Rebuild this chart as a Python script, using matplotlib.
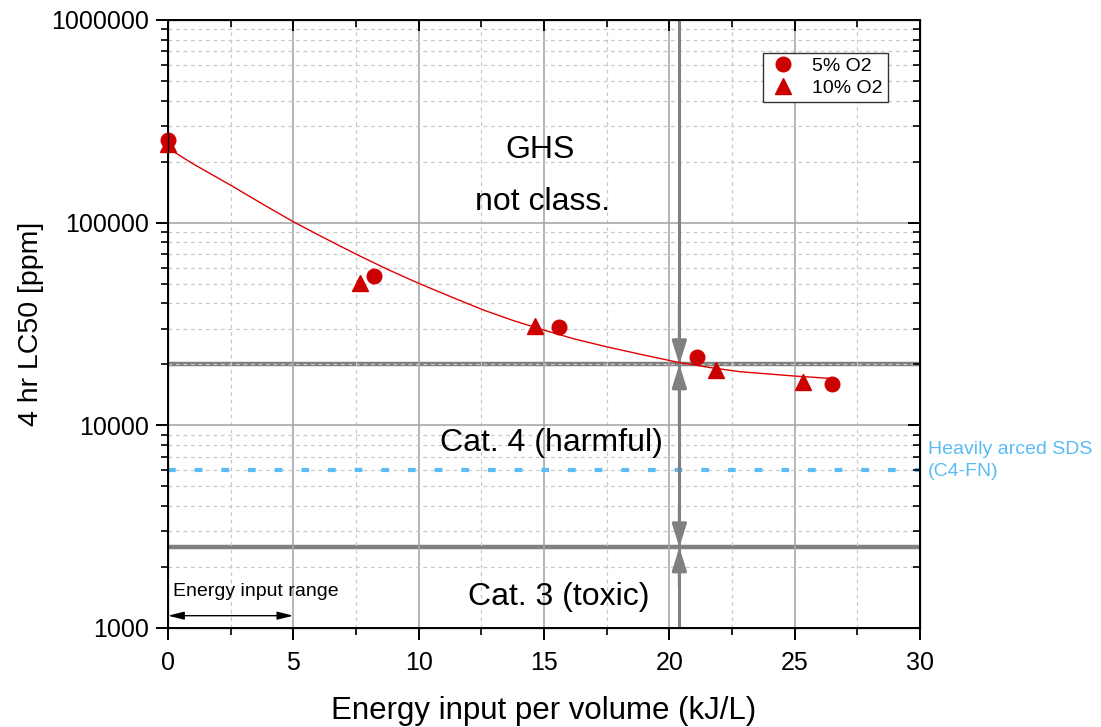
# coding: utf-8
# LC50 vs energy input per volume (log scale)
import matplotlib
matplotlib.use('Agg')
from matplotlib import pyplot as plt
from matplotlib.ticker import MultipleLocator, NullFormatter, FixedLocator, FuncFormatter

plt.rcParams['font.family'] = ['Liberation Sans', 'DejaVu Sans']

# measured points
x_5 = [0.0, 8.2, 15.6, 21.1, 26.5]
y_5 = [255000, 54500, 30500, 21700, 16000]
x_10 = [0.0, 7.65, 14.65, 21.85, 25.35]
y_10 = [245000, 50300, 30900, 18750, 16350]

# fit curve
fit_x = [0.0, 1.0, 2.5, 3.75, 5.0, 6.0, 6.86, 7.66, 8.8, 10.0, 11.3, 12.6, 13.8, 15.0,
         16.2, 17.5, 19.0, 20.4, 21.6, 22.8, 24.0, 25.0, 26.4]
fit_y = [233000, 195000, 153000, 124000, 101000, 87000, 76700, 68400, 58500, 50200,
         43000, 37000, 32800, 29500, 26700, 24400, 22200, 20400, 19300, 18400, 17900,
         17500, 17050]

# GHS thresholds
ghs_cat4 = 20000
ghs_cat3 = 2500
sds_level = 6000
x_cross = 20.4
range_x = [0, 5]
range_y = 1150

y_major = [1e3, 1e4, 1e5, 1e6]
y_minor = [k * 10 ** d for d in (3, 4, 5) for k in range(2, 10)]


def main():
    fig = plt.figure(figsize=(11.01, 7.27), dpi=100)
    ax = fig.add_axes([0.1526, 0.1362, 0.6830, 0.8363])
    ax.set_yscale('log')
    ax.set_xlim(0, 30)
    ax.set_ylim(1000, 1000000)

    ########################################
    # grid
    ########################################
    ax.xaxis.set_major_locator(MultipleLocator(5))
    ax.xaxis.set_minor_locator(MultipleLocator(2.5))
    ax.yaxis.set_major_locator(FixedLocator(y_major))
    ax.yaxis.set_minor_locator(FixedLocator(y_minor))
    ax.yaxis.set_minor_formatter(NullFormatter())
    ax.yaxis.set_major_formatter(FuncFormatter(lambda v, p: '%d' % v))
    ax.set_axisbelow(True)
    ax.grid(which='major', color='#a8a8a8', lw=1.2, ls='-')
    ax.grid(which='minor', color='#c8c8c8', lw=0.9, ls=(0, (3, 3)))

    # threshold lines
    ax.axhline(ghs_cat4, color='#808080', lw=3.2, zorder=0.4)
    ax.axhline(ghs_cat3, color='#808080', lw=3.2, zorder=0.4)
    ax.axhline(sds_level, color='#5bbcf5', lw=3, ls=(0, (1.85, 4.55)), zorder=1)
    ax.axvline(x_cross, color='#808080', lw=2.2, zorder=1.2)

    # arrow heads on the vertical line
    astyle = dict(arrowstyle='-|>,head_length=0.7,head_width=0.22', color='#808080',
                  lw=2.2, shrinkA=0, shrinkB=0, mutation_scale=20)
    for tip, start in [(ghs_cat4, 40000), (ghs_cat4, 10000),
                       (ghs_cat3, 4000), (ghs_cat3, 1600)]:
        ax.annotate('', xy=(x_cross, tip), xytext=(x_cross, start), arrowprops=astyle,
                    zorder=1.3)

    # data
    ax.plot(fit_x, fit_y, color='#e00000', lw=1.0, zorder=3)
    ax.plot(x_5, y_5, 'o', color='#cc0000', ms=10.5, label='5% O2', zorder=4,
            clip_on=False)
    ax.plot(x_10, y_10, '^', color='#cc0000', ms=11.5, label='10% O2', zorder=4,
            clip_on=False)

    # text labels
    ax.text(14.85, 228000, 'GHS', fontsize=23, ha='center', va='center')
    ax.text(14.95, 126400, 'not class.', fontsize=23, ha='center', va='center')
    ax.text(15.3, 8180, 'Cat. 4 (harmful)', fontsize=23, ha='center', va='center')
    ax.text(15.6, 1422, 'Cat. 3 (toxic)', fontsize=23, ha='center', va='center')
    ax.text(0.2, 1520, 'Energy input range', fontsize=14, ha='left', va='center')
    ax.annotate('', xy=(range_x[0], range_y), xytext=(range_x[1], range_y),
                arrowprops=dict(arrowstyle='<|-|>,head_length=0.8,head_width=0.2',
                                color='black', lw=1.0, shrinkA=0, shrinkB=0,
                                mutation_scale=12))
    ax.text(30.3, 6700, 'Heavily arced SDS\n(C4-FN)', fontsize=14, color='#5bbcf5',
            ha='left', va='center', linespacing=1.45, clip_on=False)

    ########################################
    # axes and ticks
    ########################################
    for s in ax.spines.values():
        s.set_linewidth(1.4)
    ax.tick_params(which='major', direction='out', length=8.5, width=1.4, labelsize=18,
                   pad=5)
    ax.tick_params(which='minor', direction='out', length=5, width=1.2)
    ax.tick_params(axis='x', pad=8)
    ax.set_xlabel('Energy input per volume (kJ/L)', fontsize=22.5, labelpad=15)
    ax.set_ylabel('4 hr LC50 [ppm]', fontsize=20.5, labelpad=5)

    # inward ticks on top and right
    axt = ax.twiny()
    axt.set_xlim(ax.get_xlim())
    axt.xaxis.set_major_locator(MultipleLocator(5))
    axt.xaxis.set_minor_locator(MultipleLocator(2.5))
    axt.tick_params(which='major', direction='in', length=8, width=1.4, labeltop=False)
    axt.tick_params(which='minor', direction='in', length=5, width=1.2)
    axr = ax.twinx()
    axr.set_yscale('log')
    axr.set_ylim(ax.get_ylim())
    axr.yaxis.set_major_locator(FixedLocator(y_major))
    axr.yaxis.set_minor_locator(FixedLocator(y_minor))
    axr.tick_params(which='major', direction='in', length=9, width=1.4, labelright=False)
    axr.tick_params(which='minor', direction='in', length=5, width=1.2, labelright=False)

    leg = ax.legend(loc='upper right', bbox_to_anchor=(0.957, 0.946), fontsize=14,
                    frameon=True, fancybox=False, edgecolor='#333333', framealpha=1,
                    borderpad=0.25, labelspacing=0.2, handletextpad=0.7,
                    handlelength=1.6, borderaxespad=0)
    leg.get_frame().set_linewidth(1.0)
    leg.set_zorder(5)

    fig.savefig('out.png', dpi=100)
    return


if __name__ == '__main__':
    main()
